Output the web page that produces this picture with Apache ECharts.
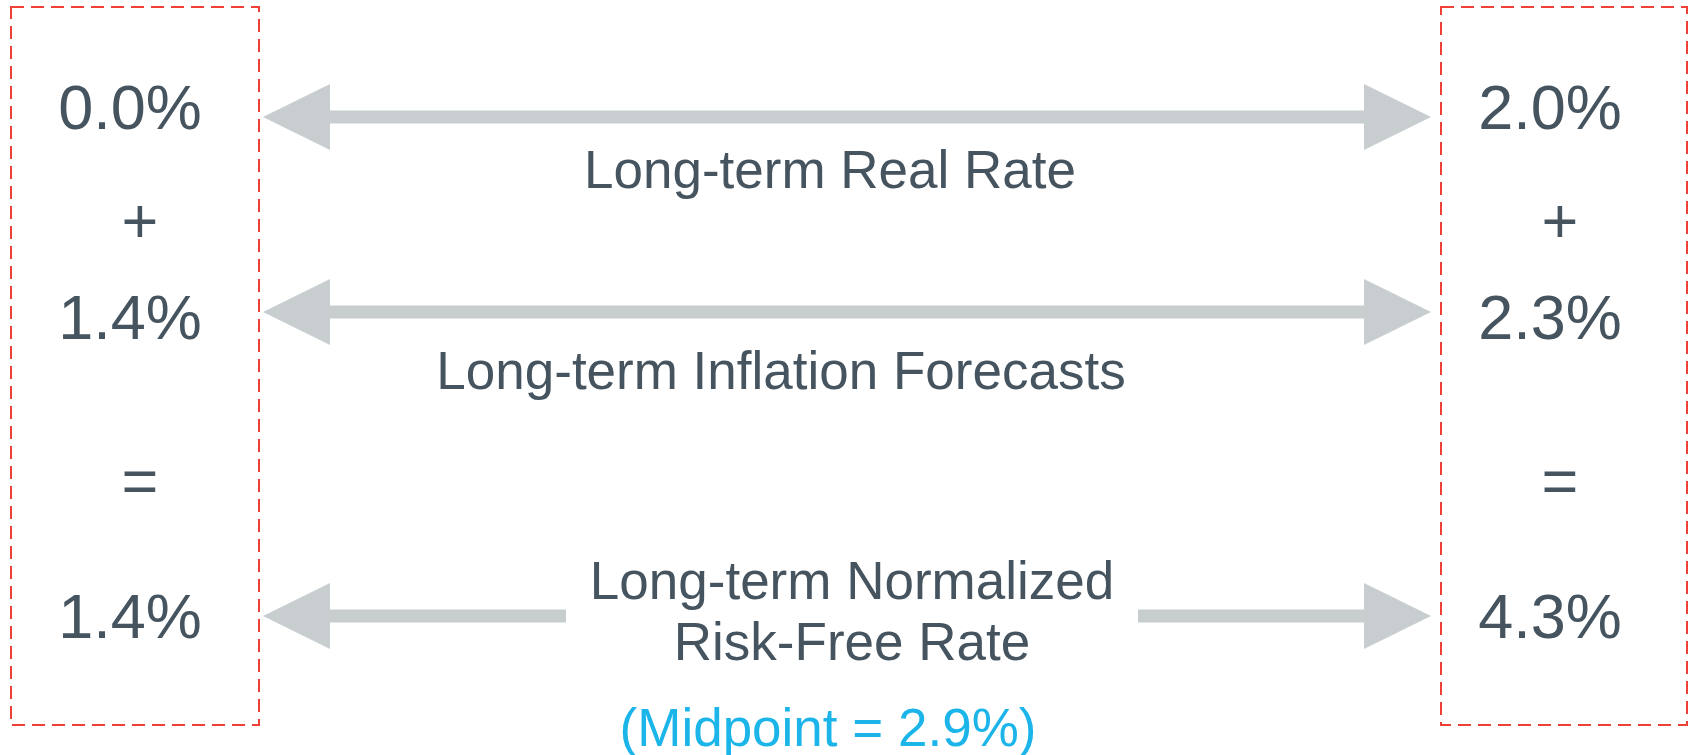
<!DOCTYPE html>
<html>
<head>
<meta charset="utf-8">
<script src="https://cdn.jsdelivr.net/npm/echarts@6/dist/echarts.min.js"></script>
<style>
html, body { margin: 0; padding: 0; background: #ffffff; }
#chart { width: 1689px; height: 755px; }
</style>
</head>
<body>
<div id="chart"></div>
<script>
// ---------- Data ----------
const rowLabels = ['Long-term Real Rate', 'Long-term Inflation Forecasts', 'Long-term Normalized\nRisk-Free Rate'];
const lowEnd = [0.0, 1.4, 1.4];
const highEnd = [2.0, 2.3, 4.3];
const operators = ['+', '='];
const midpointValue = 2.9;

// ---------- Layout (frame units = pixels of a 1689 x 755 frame) ----------
const W = 1689, H = 755;
const rowY = [117, 312, 616];            // arrow centre lines
const numY = [112, 322, 621];            // number text middles
const opY = [226, 486];                  // operator text middles
const labelPos = [[830, 173], [781, 374], [852, 615]];
const midPos = [828, 731];
const leftNumX = 130, rightNumX = 1550, leftOpX = 140, rightOpX = 1560;
const leftTip = 263, leftBase = 330, rightBase = 1364, rightTip = 1431;
const headHalf = 33, shaftHalf = 6.5;
const gapRow = 2, gapL = 566, gapR = 1138;
const boxes = [[11, 7, 259, 725], [1441, 7, 1687, 725]];

const TEXT = '#45545F', BLUE = '#1BB5EA', GRAY = '#C8CDD0', RED = '#EE4035';
const FONT = '"Liberation Sans", Arial, Helvetica, sans-serif';
const fmt = v => v.toFixed(1) + '%';

const chart = echarts.init(document.getElementById('chart'), null, { renderer: 'canvas' });

function arrowItem(params, api) {
  const i = params.dataIndex;
  const c = (x, y) => api.coord([x, y]);
  const y = rowY[i];
  const children = [];
  children.push({ type: 'polygon', shape: { points: [c(leftTip, y), c(leftBase, y - headHalf), c(leftBase, y + headHalf)] }, style: { fill: GRAY } });
  children.push({ type: 'polygon', shape: { points: [c(rightTip, y), c(rightBase, y - headHalf), c(rightBase, y + headHalf)] }, style: { fill: GRAY } });
  const segs = i === gapRow ? [[leftBase - 1, gapL], [gapR, rightBase + 1]] : [[leftBase - 1, rightBase + 1]];
  segs.forEach(s => {
    const p0 = c(s[0], y - shaftHalf), p1 = c(s[1], y + shaftHalf);
    children.push({ type: 'rect', shape: { x: p0[0], y: p0[1], width: p1[0] - p0[0], height: p1[1] - p0[1] }, style: { fill: GRAY } });
  });
  return { type: 'group', children };
}

function textEl(p, text, size, color, lh) {
  return {
    type: 'text', x: p[0], y: p[1],
    style: {
      text, fill: color, font: size + 'px ' + FONT,
      textAlign: 'center', textVerticalAlign: 'middle',
      align: 'center', verticalAlign: 'middle',
      lineHeight: lh || size
    }
  };
}

function rowTextItem(params, api) {
  const i = params.dataIndex;
  const c = (x, y) => api.coord([x, y]);
  return {
    type: 'group',
    children: [
      textEl(c(leftNumX, numY[i]), fmt(lowEnd[i]), 63, TEXT),
      textEl(c(rightNumX, numY[i]), fmt(highEnd[i]), 63, TEXT),
      textEl(c(labelPos[i][0], labelPos[i][1]), rowLabels[i], 53, TEXT, 61)
    ]
  };
}

function opItem(params, api) {
  const i = params.dataIndex;
  const c = (x, y) => api.coord([x, y]);
  return {
    type: 'group',
    children: [
      textEl(c(leftOpX, opY[i]), operators[i], 63, TEXT),
      textEl(c(rightOpX, opY[i]), operators[i], 63, TEXT)
    ]
  };
}

function boxItem(params, api) {
  const b = boxes[params.dataIndex];
  const p0 = api.coord([b[0], b[1]]), p1 = api.coord([b[2], b[3]]);
  return {
    type: 'rect',
    shape: { x: p0[0], y: p0[1], width: p1[0] - p0[0], height: p1[1] - p0[1] },
    style: { fill: 'none', stroke: RED, lineWidth: 2, lineDash: [13, 7] }
  };
}

function midItem(params, api) {
  return textEl(api.coord(midPos), '(Midpoint = ' + fmt(midpointValue) + ')', 53, BLUE);
}

chart.setOption({
  backgroundColor: '#ffffff',
  animation: false,
  grid: { left: 0, right: 0, top: 0, bottom: 0 },
  xAxis: { type: 'value', min: 0, max: W, show: false },
  yAxis: { type: 'value', min: 0, max: H, inverse: true, show: false },
  series: [
    { type: 'custom', renderItem: boxItem, data: boxes.map((b, i) => [i]), silent: true },
    { type: 'custom', renderItem: arrowItem, data: rowLabels.map((l, i) => [i]), silent: true },
    { type: 'custom', renderItem: rowTextItem, data: rowLabels.map((l, i) => [i]), silent: true },
    { type: 'custom', renderItem: opItem, data: operators.map((o, i) => [i]), silent: true },
    { type: 'custom', renderItem: midItem, data: [[midpointValue]], silent: true }
  ]
});
</script>
</body>
</html>
